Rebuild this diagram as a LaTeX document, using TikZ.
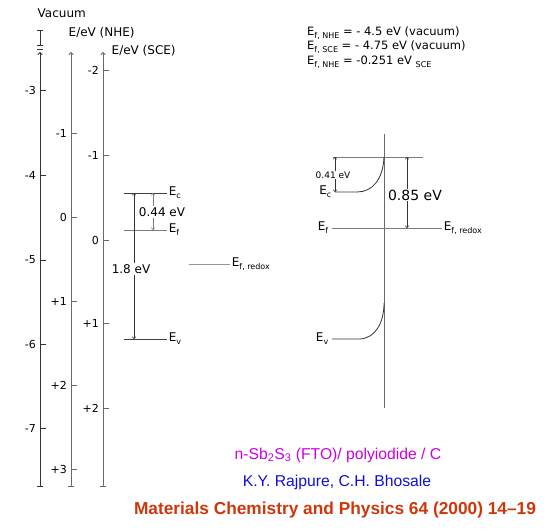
\documentclass[tikz,border=0pt]{standalone}
\usepackage{fontspec}
\setmainfont{DejaVu Sans}
\newfontfamily\capfont{Liberation Sans}
\usetikzlibrary{arrows.meta}
\definecolor{axisgray}{RGB}{105,105,105}
\definecolor{bandgray}{RGB}{125,125,125}
\definecolor{sysmagenta}{RGB}{205,0,225}
\definecolor{authblue}{RGB}{15,15,215}
\definecolor{refred}{RGB}{205,55,10}
\newcommand{\sbs}[1]{\raisebox{-0.45ex}{\fontsize{8}{8}\selectfont #1}}
\begin{document}
\begin{tikzpicture}[x=1pt, y=-1pt,
    ax/.style={{Bar[width=6pt]}-{To[width=5pt,length=3pt]}, line width=0.9pt},
    tickmark/.style={line width=0.8pt},
    lvl/.style={draw=bandgray, line width=0.8pt},
    dim/.style={{To[width=4pt,length=2.5pt]}-{To[width=4pt,length=2.5pt]}, line width=0.6pt},
    lab/.style={font=\fontsize{12}{13}\selectfont, inner sep=1.5pt},
    ticklab/.style={font=\fontsize{11}{12}\selectfont, anchor=east, inner sep=1pt},
    gap/.style={fill=white, inner sep=1pt}]
  \useasboundingbox (0,0) rectangle (550,531);
  % 真空準位の軸
  \coordinate (vacB) at (40,487);
  \coordinate (vacT) at (40,52);
  \draw[ax, black!80] (vacB) -- (vacT);
  \draw[{Bar[width=6pt]}-{Bar[width=6pt]}, black!80, line width=0.8pt] (40,30) -- (40,46);
  \draw[black!80, line width=0.8pt] (37,49.5) -- (43,49.5);
  \foreach \v/\y in {-3/90,-4/175,-5/260,-6/344,-7/428}{
    \draw[tickmark, black!80] (40,\y) -- (46,\y);
    \node[ticklab] (vac\y) at (37,\y) {\v};
  }
  \node[lab, anchor=west] (vacTitle) at (36,13) {Vacuum};
  % NHE の軸
  \coordinate (nheB) at (71,487);
  \coordinate (nheT) at (71,52);
  \draw[ax, axisgray] (nheB) -- (nheT);
  \foreach \v/\y in {-1/133,0/217,+1/301,+2/385,+3/469}{
    \draw[tickmark, axisgray] (71,\y) -- (77,\y);
    \node[ticklab] (nhe\y) at (68,\y) {\v};
  }
  \node[lab, anchor=west] (nheTitle) at (67,33) {E/eV (NHE)};
  % SCE の軸
  \coordinate (sceB) at (103,487);
  \coordinate (sceT) at (103,52);
  \draw[ax, axisgray] (sceB) -- (sceT);
  \foreach \v/\y in {-2/70,-1/155,0/240,+1/323,+2/408}{
    \draw[tickmark, axisgray] (103,\y) -- (109,\y);
    \node[ticklab] (sce\y) at (100,\y) {\v};
  }
  \node[lab, anchor=west] (sceTitle) at (110,51) {E/eV (SCE)};
  % 接触前のバンド
  \coordinate (ecA) at (124,193); \coordinate (ecB) at (167,193);
  \coordinate (efA) at (124,230); \coordinate (efB) at (167,230);
  \coordinate (evA) at (124,339); \coordinate (evB) at (167,339);
  \draw[lvl, draw=black!75] (ecA) -- (ecB) node[lab, right] (ecLab) {E\sbs{c}};
  \draw[lvl] (efA) -- (efB) node[lab, right] (efLab) {E\sbs{f}};
  \draw[lvl, draw=black!75] (evA) -- (evB) node[lab, right] (evLab) {E\sbs{v}};
  \coordinate (gapT) at (134,193); \coordinate (gapB) at (134,339);
  \draw[dim, black!80] (gapT) -- (gapB);
  \node[lab, gap] (gapLab) at (131,269) {1.8 eV};
  \coordinate (cfT) at (153,193); \coordinate (cfB) at (153,230);
  \draw[dim, bandgray] (cfT) -- (cfB);
  \node[lab, gap] (cfLab) at (162,212) {0.44 eV};
  % 電解質のレドックス準位
  \coordinate (rdA) at (189,264); \coordinate (rdB) at (230,264);
  \draw[lvl, draw=bandgray!80] (rdA) -- (rdB) node[lab, right] (rdLab) {E\sbs{f, redox}};
  % 接触後のバンド
  \coordinate (ifT) at (384,134); \coordinate (ifB) at (384,408);
  \draw[line width=0.8pt, axisgray] (ifT) -- (ifB);
  \coordinate (ecsA) at (333,157); \coordinate (ecsB) at (423,157);
  \draw[lvl] (ecsA) -- (ecsB);
  \coordinate (ecbA) at (335,192); \coordinate (ecbS) at (384,157);
  \draw[line width=0.8pt, black!80] (ecbA) -- (357,192) .. controls (372,192) and (383,180) .. (ecbS);
  \node[lab, anchor=east] (ec2Lab) at (333,192) {E\sbs{c}};
  \coordinate (ef2A) at (332,228); \coordinate (ef2B) at (442,228);
  \draw[lvl] (ef2A) -- (ef2B) node[lab, right] (rd2Lab) {E\sbs{f, redox}};
  \node[lab, anchor=east] (ef2Lab) at (330,228) {E\sbs{f}};
  \coordinate (evbA) at (332,339); \coordinate (evbS) at (384,303);
  \draw[line width=0.8pt, black!80] (evbA) -- (360,339) .. controls (376,338) and (384,322) .. (evbS);
  \node[lab, anchor=east] (ev2Lab) at (330,339) {E\sbs{v}};
  \coordinate (bbT) at (335,157); \coordinate (bbB) at (335,192);
  \draw[dim, black!80] (bbT) -- (bbB);
  \node[gap, font=\fontsize{9}{9}\selectfont] (bbLab) at (333,175) {0.41 eV};
  \coordinate (vbT) at (407,157); \coordinate (vbB) at (407,228);
  \draw[dim, black!80] (vbT) -- (vbB);
  \node[gap, font=\fontsize{14}{15}\selectfont] (vbLab) at (415,195) {0.85 eV};
  % 基準電極の関係式
  \node[font=\fontsize{11.5}{12}\selectfont, anchor=west, inner sep=0pt] (eq1) at (307,33) {E\sbs{f, NHE} = - 4.5 eV (vacuum)};
  \node[font=\fontsize{11.5}{12}\selectfont, anchor=west, inner sep=0pt] (eq2) at (307,47.5) {E\sbs{f, SCE} = - 4.75 eV (vacuum)};
  \node[font=\fontsize{11.5}{12}\selectfont, anchor=west, inner sep=0pt] (eq3) at (307,62.5) {E\sbs{f, NHE} = -0.251 eV \sbs{SCE}};
  % 出典
  \node[font=\capfont\fontsize{15.7}{16}\selectfont, text=sysmagenta] (sysLab) at (338,455)
    {n-Sb\textsubscript{2}S\textsubscript{3} (FTO)/ polyiodide / C};
  \node[font=\capfont\fontsize{15.7}{16}\selectfont, text=authblue] (authLab) at (337,482)
    {K.Y. Rajpure, C.H. Bhosale};
  \node[font=\capfont\bfseries\fontsize{17.3}{18}\selectfont, text=refred] (refLab) at (335,510)
    {Materials Chemistry and Physics 64 (2000) 14–19};
\end{tikzpicture}
\end{document}
